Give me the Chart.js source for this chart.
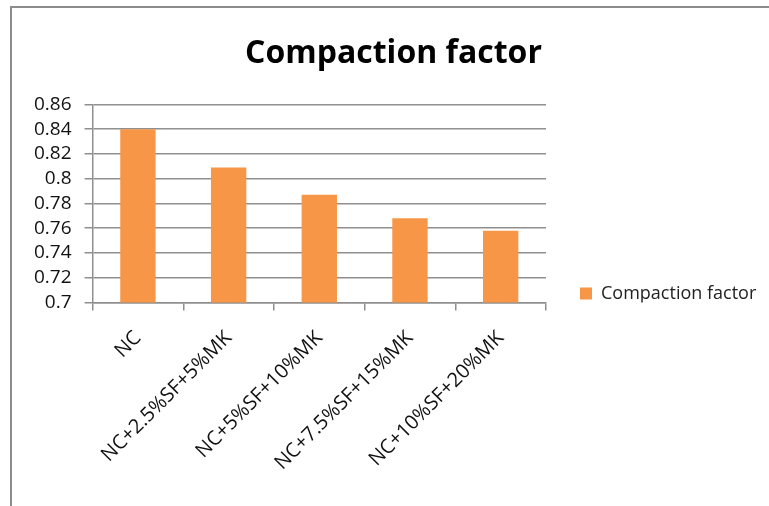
<!DOCTYPE html>
<html>
<head>
<meta charset="utf-8">
<title>Compaction factor</title>
<script src="https://cdn.jsdelivr.net/npm/chart.js@4/dist/chart.umd.min.js"></script>
<style>
  html, body { margin: 0; padding: 0; background: #ffffff; overflow: hidden; }
  body { width: 769px; height: 506px; position: relative; }
  #frame {
    position: absolute; left: 10px; top: 6px;
    width: 770px; height: 500px;
    border: 2px solid #8c8c8c;
    background: #ffffff;
  }
  #frame canvas { display: block; }
</style>
</head>
<body>
<div id="frame"><canvas id="chart"></canvas></div>
<script>
// Mix designations and their measured compaction factors
const categories = [
  'NC',
  'NC+2.5%SF+5%MK',
  'NC+5%SF+10%MK',
  'NC+7.5%SF+15%MK',
  'NC+10%SF+20%MK'
];
const compactionFactor = [0.84, 0.809, 0.787, 0.768, 0.758];
const yTickValues = [0.7, 0.72, 0.74, 0.76, 0.78, 0.8, 0.82, 0.84, 0.86];

const FONT = "'Open Sans', 'DejaVu Sans', sans-serif";
const GRID = '#8f8f8f';
const BAR = '#F79646';

new Chart(document.getElementById('chart'), {
  type: 'bar',
  data: {
    labels: categories,
    datasets: [{
      label: 'Compaction factor',
      data: compactionFactor,
      backgroundColor: BAR,
      borderWidth: 0,
      categoryPercentage: 1,
      barPercentage: 0.39
    }]
  },
  options: {
    responsive: true,
    maintainAspectRatio: false,
    animation: false,
    events: [],
    layout: { padding: { left: 9, right: 16, top: 0, bottom: 17 } },
    plugins: {
      title: {
        display: true,
        text: 'Compaction factor',
        color: '#000000',
        font: { family: FONT, size: 32, weight: 'bold' },
        padding: { top: 27, bottom: 31 }
      },
      legend: {
        display: true,
        position: 'right',
        align: 'end',
        fullSize: false,
        maxWidth: 186,
        labels: {
          boxWidth: 12,
          boxHeight: 12,
          padding: 0,
          color: '#222222',
          font: { family: FONT, size: 18 }
        }
      },
      tooltip: { enabled: false }
    },
    scales: {
      x: {
        grid: {
          display: true,
          drawOnChartArea: false,
          drawTicks: true,
          tickLength: 8,
          color: GRID,
          lineWidth: 1.5
        },
        border: { display: true, color: GRID, width: 1.5 },
        ticks: {
          autoSkip: false,
          minRotation: 45,
          maxRotation: 45,
          padding: 16,
          color: '#111111',
          font: { family: FONT, size: 20 }
        }
      },
      y: {
        min: 0.7,
        max: 0.86,
        afterBuildTicks: scale => {
          scale.ticks = yTickValues.map(v => ({ value: v }));
        },
        grid: {
          color: GRID,
          lineWidth: 1.5,
          tickLength: 8
        },
        border: { display: true, color: GRID, width: 1.5 },
        ticks: {
          autoSkip: false,
          padding: 13,
          color: '#111111',
          font: { family: FONT, size: 19 },
          callback: v => String(+Number(v).toFixed(2))
        }
      },
      // empty gutter between the plot and the legend
      legendGap: {
        type: 'linear',
        position: 'right',
        display: true,
        grid: { display: false },
        border: { display: false },
        ticks: { display: false },
        afterFit: scale => { scale.width = 34; }
      }
    }
  }
});
</script>
</body>
</html>
